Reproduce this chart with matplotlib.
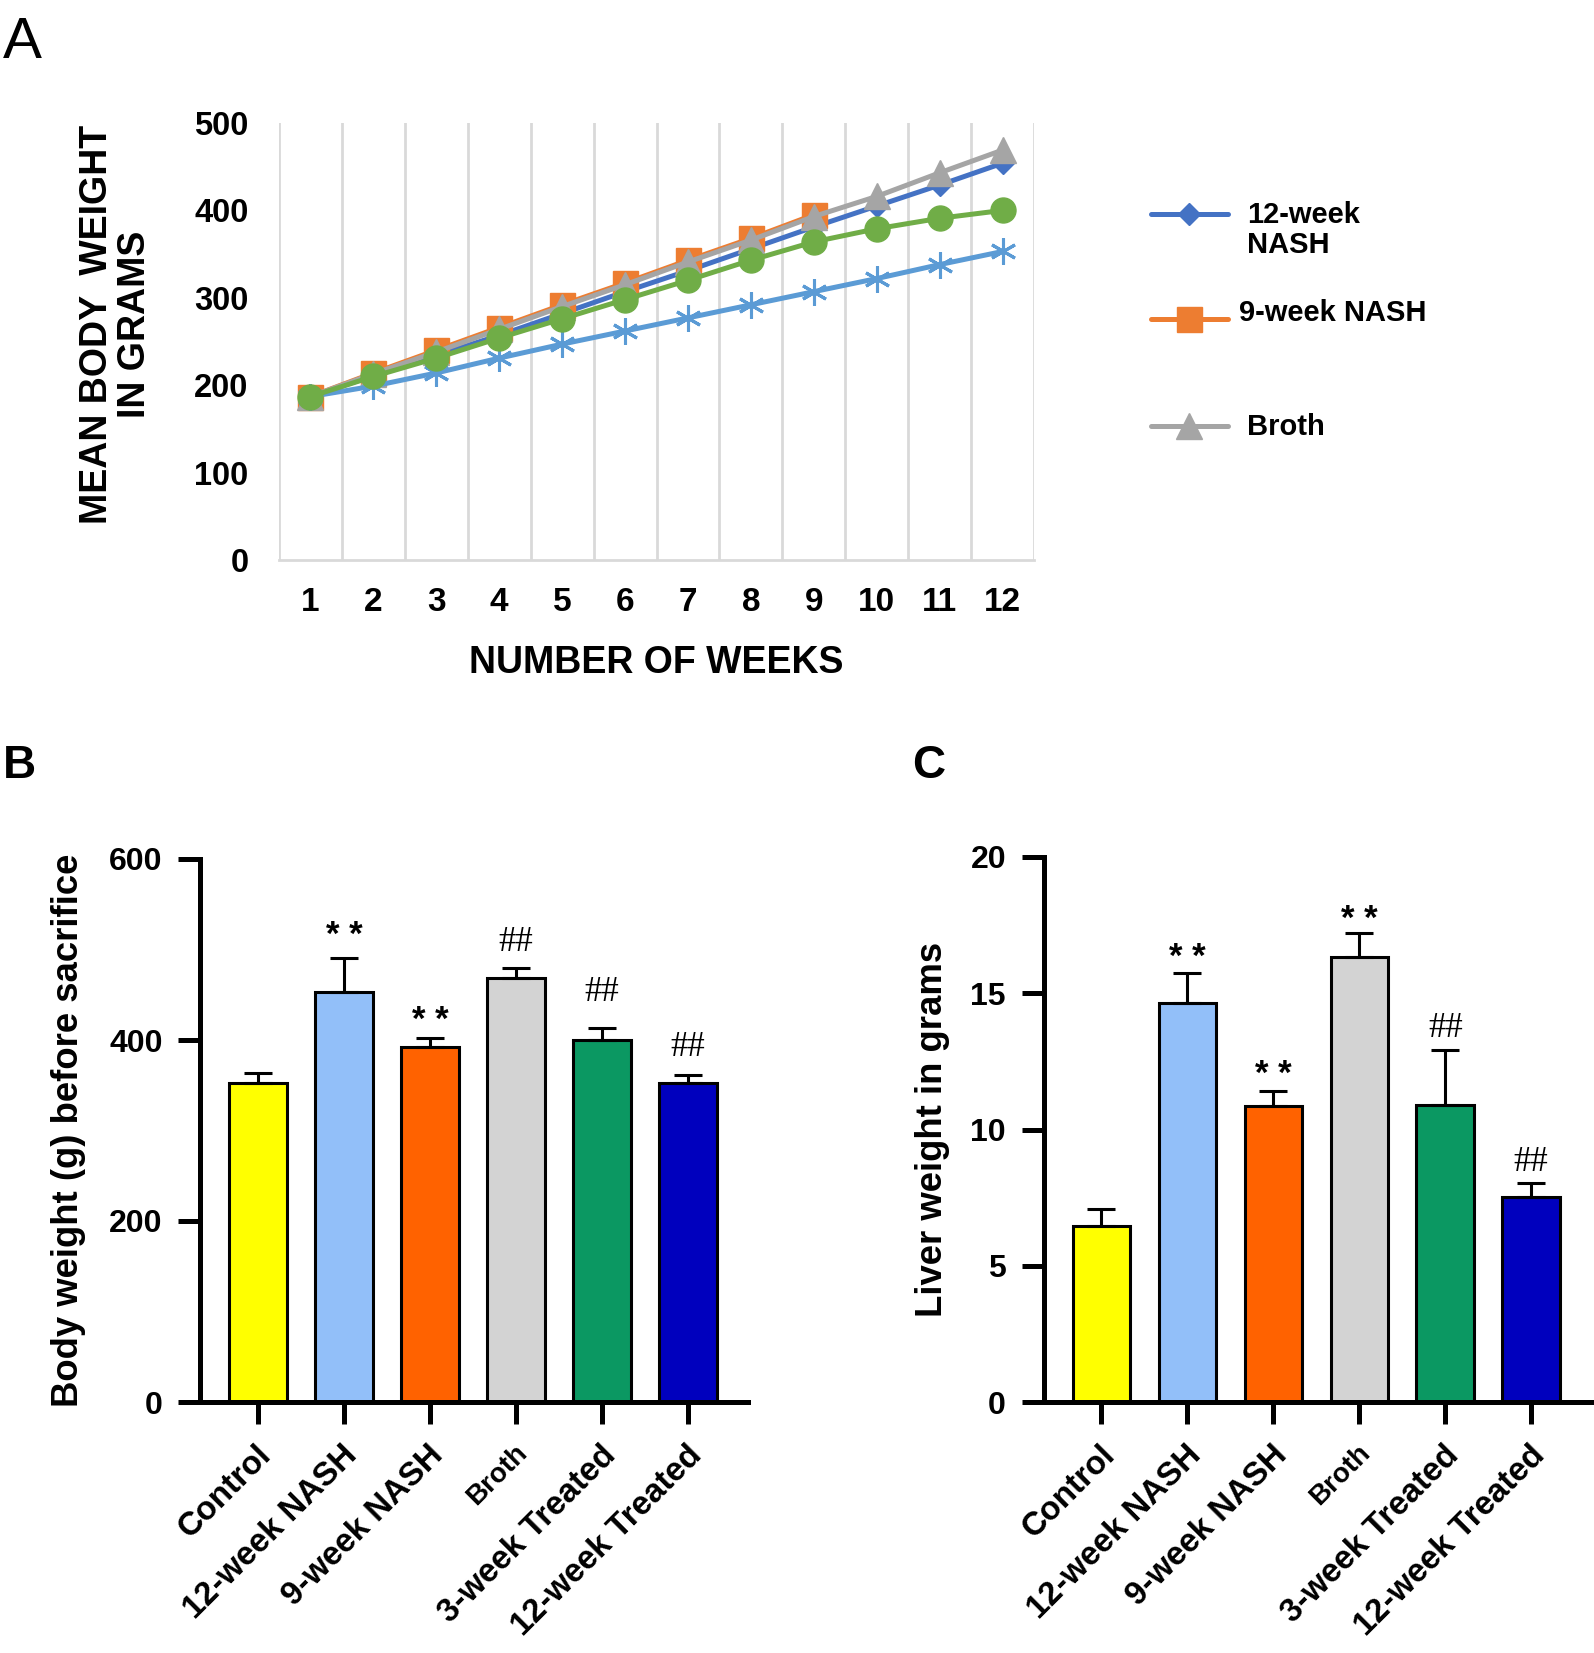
import numpy as np
import matplotlib
matplotlib.use("Agg")
import matplotlib.pyplot as plt
from matplotlib.lines import Line2D
from matplotlib.transforms import ScaledTranslation

plt.rcParams['font.family'] = ['Liberation Sans', 'DejaVu Sans']

# ---------------- data ----------------
weeks = [1, 2, 3, 4, 5, 6, 7, 8, 9, 10, 11, 12]
nash12_weekly = [187, 211, 234, 257, 282, 307, 331, 356, 381, 405, 429, 454]
nash9_weekly = [187, 214, 240, 266, 292, 317, 343, 368, 395]
broth_weekly = [187, 213, 238, 264, 290, 315, 341, 366, 393, 416, 443, 469]
treated3_weekly = [187, 210, 231, 254, 276, 298, 320, 343, 364, 379, 391, 400]
control_weekly = [187, 199, 214, 231, 247, 262, 277, 292, 307, 322, 338, 353]
legend_labels = ['12-week\nNASH', '9-week NASH', 'Broth']

groups = ['Control', '12-week NASH', '9-week NASH', 'Broth', '3-week Treated', '12-week Treated']
body_weight = [352, 453, 392, 469, 400, 352]
body_weight_err = [11, 38, 10, 11, 13, 9]
body_marks = ['', '**', '**', '##', '##', '##']
body_mark_y = [0, 515, 422, 508, 452, 392]

liver_weight = [6.46, 14.64, 10.85, 16.32, 10.89, 7.54]
liver_weight_err = [0.61, 1.10, 0.56, 0.88, 2.01, 0.51]
liver_marks = ['', '**', '**', '**', '##', '##']
liver_mark_y = [0, 16.3, 12.0, 17.7, 13.7, 8.8]

bar_colors = ['#FFFF00', '#92BFF9', '#FF6200', '#D3D3D3', '#0B9862', '#0000BE']

W, H = 1594, 1653
fig = plt.figure(figsize=(W / 100, H / 100), dpi=100)


def fx(px):
    return px / W


def fy(py):
    return 1 - py / H


# ---------------- panel A ----------------
axA = fig.add_axes([fx(279), fy(560), fx(1034) - fx(279), fy(123) - fy(560)])
lw = 3.6
axA.plot(weeks, nash12_weekly, color='#4472C4', lw=lw, marker='D', ms=11, zorder=3)
axA.plot(weeks[:len(nash9_weekly)], nash9_weekly, color='#ED7D31', lw=lw, marker='s', ms=18, zorder=4)
axA.plot(weeks, broth_weekly, color='#A5A5A5', lw=lw, marker='^', ms=19, zorder=5)
axA.plot(weeks, control_weekly, color='#5B9BD5', lw=lw, marker=(6, 2, 0), ms=19, mew=2.2,
         mec='#5B9BD5', zorder=6)
axA.plot(weeks, treated3_weekly, color='#70AD47', lw=lw, marker='o', ms=18, zorder=7)

axA.set_xlim(0.5, 12.5)
axA.set_ylim(0, 500)
axA.set_xticks(weeks)
axA.set_xticks(np.arange(0.5, 13, 1), minor=True)
axA.set_yticks([0, 100, 200, 300, 400, 500])
axA.grid(which='minor', axis='x', color='#D9D9D9', lw=2, zorder=0)
axA.grid(which='major', axis='both', visible=False)
for s in ['left', 'right', 'top']:
    axA.spines[s].set_visible(False)
axA.spines['bottom'].set_color('#D9D9D9')
axA.spines['bottom'].set_linewidth(2)
axA.tick_params(axis='both', which='both', length=0)
axA.tick_params(axis='x', labelsize=24, pad=19.5)
axA.tick_params(axis='y', labelsize=23.5, pad=22)
for lbl in axA.get_xticklabels() + axA.get_yticklabels():
    lbl.set_fontweight('bold')
axA.set_xlabel('NUMBER OF WEEKS', fontsize=27, fontweight='bold', va='center')
axA.xaxis.set_label_coords(0.5, (560 - 663) / 437)
fig.text(fx(116), fy(324), 'MEAN BODY  WEIGHT\nIN GRAMS', rotation=90, ha='center', va='center',
         fontsize=27, fontweight='bold', linespacing=1.08, multialignment='center')

# legend (manual, to match spacing)
leg_styles = [dict(color='#4472C4', marker='D', ms=11),
              dict(color='#ED7D31', marker='s', ms=18),
              dict(color='#A5A5A5', marker='^', ms=19)]
leg_line_y = [214, 319, 426]
leg_text_y = [230, 313, 427]
leg_text_x = [1247, 1239, 1247]
for st, ly, ty, tx, lab in zip(leg_styles, leg_line_y, leg_text_y, leg_text_x, legend_labels):
    fig.add_artist(Line2D([fx(1151), fx(1228)], [fy(ly), fy(ly)], color=st['color'], lw=lw,
                          solid_capstyle='round'))
    fig.add_artist(Line2D([fx(1189)], [fy(ly)], color=st['color'], marker=st['marker'],
                          ms=st['ms'], lw=0))
    fig.text(fx(tx), fy(ty), lab, ha='left', va='center', fontsize=21, fontweight='bold',
             linespacing=1.1)

# ---------------- bar panels ----------------
def bar_panel(ax, vals, errs, marks, mark_y, ylim, yticks, ylabel, label_x):
    x = np.arange(len(groups))
    ax.bar(x, vals, width=0.67, color=bar_colors, edgecolor='black', linewidth=2.2, zorder=2)
    ax.errorbar(x, vals, yerr=[np.zeros(len(vals)), errs], fmt='none', ecolor='black',
                elinewidth=2.2, capsize=10, capthick=2.2, zorder=3)
    for xi, m, my in zip(x, marks, mark_y):
        if not m:
            continue
        if m == '**':
            ax.text(xi, my, '* *', ha='center', va='center', fontsize=25, fontweight='bold')
        else:
            ax.text(xi, my, m, ha='center', va='center', fontsize=25,
                    family=['Liberation Serif', 'DejaVu Serif'])
    ax.set_ylim(*ylim)
    ax.set_yticks(yticks)
    ax.set_xticks(x)
    ax.set_xticklabels(groups)
    for s in ['right', 'top']:
        ax.spines[s].set_visible(False)
    for s in ['left', 'bottom']:
        ax.spines[s].set_linewidth(3.6)
    ax.tick_params(axis='both', length=15.5, width=3.6, direction='out')
    ax.tick_params(axis='y', labelsize=23, pad=11.5)
    ax.tick_params(axis='x', pad=11.5)
    for lbl in ax.get_yticklabels():
        lbl.set_fontweight('bold')
    off = ScaledTranslation(-0.02, 0, fig.dpi_scale_trans)
    for lbl in ax.get_xticklabels():
        lbl.set_rotation(45)
        lbl.set_ha('right')
        lbl.set_va('top')
        lbl.set_rotation_mode('anchor')
        lbl.set_fontweight('bold')
        lbl.set_fontsize(20 if lbl.get_text() == 'Broth' else 23.8)
        lbl.set_transform(lbl.get_transform() + off)
    ax.set_ylabel(ylabel, fontsize=26.3, fontweight='bold', va='center')
    ax.yaxis.set_label_coords(label_x, 0.5)


axB = fig.add_axes([fx(200), fy(1402), fx(748) - fx(200), fy(859) - fy(1402)])
axB.set_xlim(-0.674, 5.70)
bar_panel(axB, body_weight, body_weight_err, body_marks, body_mark_y, (0, 600),
          [0, 200, 400, 600], 'Body weight (g) before sacrifice', (68.5 - 200) / 548)

axC = fig.add_axes([fx(1043.5), fy(1402), fx(1594) - fx(1043.5), fy(857) - fy(1402)])
axC.set_xlim(-0.674, 5.73)
bar_panel(axC, liver_weight, liver_weight_err, liver_marks, liver_mark_y, (0, 20),
          [0, 5, 10, 15, 20], 'Liver weight in grams', (933 - 1043.5) / 550.5)

# panel letters
fig.text(fx(3), fy(58), 'A', fontsize=42, ha='left', va='baseline')
fig.text(fx(3), fy(778), 'B', fontsize=33, fontweight='bold', ha='left', va='baseline')
fig.text(fx(912), fy(778), 'C', fontsize=33, fontweight='bold', ha='left', va='baseline')

fig.savefig('out.png', dpi=100, facecolor='white')
